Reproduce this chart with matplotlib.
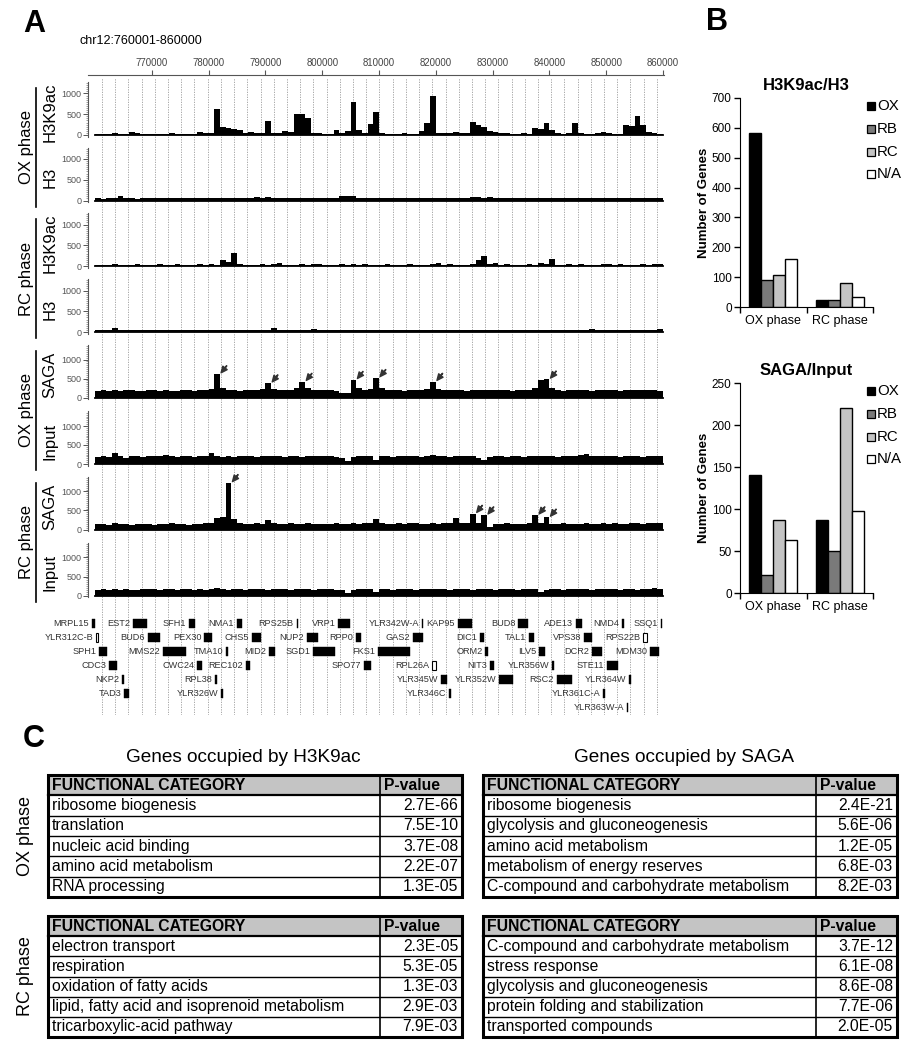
import numpy as np
import matplotlib.pyplot as plt
from matplotlib.patches import Rectangle

plt.rcParams['font.family'] = ['Liberation Sans', 'DejaVu Sans']

# ---------------- panel A data ----------------
region_start = 760000
region_end = 860000
bin_size = 1000
ruler_ticks = [770000, 780000, 790000, 800000, 810000, 820000, 830000, 840000, 850000, 860000]

ox_h3k9ac = [35, 30, 35, 40, 35, 30, 80, 40, 35, 30,
             35, 35, 30, 40, 35, 30, 35, 35, 70, 40,
             40, 620, 190, 170, 150, 130, 60, 80, 40, 45,
             330, 60, 40, 100, 80, 500, 510, 400, 60, 40,
             35, 35, 110, 40, 100, 800, 120, 60, 270, 550,
             50, 35, 35, 30, 40, 35, 35, 100, 300, 930,
             60, 40, 40, 70, 40, 45, 320, 250, 200, 100,
             80, 60, 40, 35, 35, 40, 35, 180, 150, 300,
             120, 40, 35, 40, 300, 40, 35, 35, 40, 70,
             40, 35, 35, 250, 220, 450, 250, 70, 40, 35]
ox_h3 = [50, 45, 55, 60, 100, 55, 50, 45, 55, 50,
         55, 50, 60, 55, 50, 55, 60, 50, 55, 60,
         50, 55, 60, 50, 55, 60, 65, 60, 90, 60,
         80, 55, 50, 60, 55, 50, 55, 60, 50, 55,
         60, 55, 60, 110, 120, 100, 55, 50, 60, 55,
         50, 55, 60, 55, 50, 55, 60, 55, 50, 55,
         60, 55, 50, 60, 55, 50, 75, 80, 70, 75,
         65, 60, 55, 60, 55, 50, 60, 55, 60, 55,
         50, 55, 60, 55, 60, 55, 50, 55, 60, 70,
         60, 55, 50, 60, 55, 50, 60, 55, 50, 65]
rc_h3k9ac = [35, 30, 35, 40, 35, 30, 35, 40, 35, 30,
             35, 40, 30, 35, 40, 35, 30, 35, 40, 35,
             40, 35, 140, 100, 310, 40, 35, 30, 35, 40,
             35, 40, 70, 35, 30, 35, 40, 35, 60, 40,
             35, 30, 35, 40, 35, 50, 35, 40, 35, 30,
             35, 40, 35, 30, 35, 40, 35, 30, 35, 40,
             80, 35, 40, 35, 30, 35, 40, 150, 240, 40,
             70, 35, 40, 35, 30, 35, 40, 35, 70, 40,
             180, 35, 30, 40, 35, 40, 35, 30, 35, 40,
             45, 35, 40, 35, 30, 35, 40, 35, 45, 40]
rc_h3 = [45, 50, 45, 90, 55, 50, 45, 50, 55, 45,
         50, 55, 45, 50, 55, 50, 45, 55, 50, 45,
         50, 45, 55, 50, 45, 50, 55, 50, 45, 60,
         55, 90, 50, 45, 55, 50, 45, 50, 70, 50,
         45, 50, 55, 50, 45, 55, 50, 45, 50, 55,
         50, 45, 55, 50, 60, 50, 45, 55, 50, 45,
         50, 55, 45, 50, 55, 50, 45, 60, 50, 55,
         50, 45, 55, 50, 45, 55, 60, 50, 45, 50,
         55, 50, 45, 60, 50, 55, 50, 70, 50, 45,
         50, 55, 45, 50, 55, 50, 45, 55, 50, 80]
ox_saga = [160, 190, 180, 200, 170, 190, 210, 180, 170, 190,
           200, 180, 190, 170, 180, 200, 190, 180, 210, 200,
           230, 620, 260, 200, 190, 180, 200, 190, 210, 230,
           380, 220, 190, 200, 210, 250, 420, 260, 200, 190,
           200, 190, 180, 110, 130, 470, 250, 210, 230, 520,
           260, 200, 190, 210, 180, 190, 200, 210, 230, 420,
           230, 200, 190, 210, 200, 180, 190, 210, 200, 190,
           200, 190, 210, 180, 200, 190, 210, 240, 450, 480,
           250, 200, 180, 190, 210, 200, 190, 180, 200, 210,
           190, 200, 180, 210, 190, 200, 210, 190, 200, 180]
ox_input = [180, 200, 190, 280, 220, 160, 200, 210, 190, 200,
            210, 200, 230, 210, 190, 200, 210, 190, 200, 210,
            280, 210, 190, 200, 180, 210, 200, 220, 190, 200,
            210, 200, 220, 190, 210, 200, 190, 220, 200, 210,
            220, 210, 190, 150, 80, 190, 200, 210, 200, 100,
            200, 210, 190, 200, 220, 200, 210, 190, 200, 230,
            210, 200, 190, 210, 200, 220, 200, 160, 110, 190,
            200, 210, 190, 200, 210, 190, 200, 220, 200, 210,
            200, 190, 210, 200, 210, 230, 260, 220, 200, 210,
            200, 210, 190, 220, 200, 210, 190, 200, 210, 200]
rc_saga = [140, 150, 130, 160, 140, 150, 130, 140, 150, 140,
           130, 150, 140, 160, 150, 140, 130, 150, 140, 160,
           170, 300, 320, 1230, 280, 170, 150, 140, 160, 150,
           250, 160, 150, 140, 170, 150, 140, 160, 150, 140,
           150, 140, 160, 140, 150, 160, 150, 170, 160, 280,
           160, 150, 140, 160, 150, 170, 160, 150, 140, 160,
           150, 170, 160, 300, 170, 160, 420, 180, 380, 70,
           150, 140, 160, 150, 140, 150, 160, 380, 170, 320,
           150, 140, 160, 150, 140, 150, 160, 150, 140, 160,
           150, 160, 140, 150, 160, 170, 150, 160, 170, 160]
rc_input = [150, 160, 140, 170, 150, 160, 140, 150, 160, 170,
            160, 150, 170, 160, 150, 160, 170, 150, 160, 150,
            170, 190, 160, 150, 170, 160, 150, 160, 170, 160,
            150, 160, 170, 160, 150, 160, 170, 160, 150, 160,
            170, 160, 150, 140, 70, 150, 160, 170, 160, 100,
            160, 170, 150, 160, 170, 160, 150, 160, 170, 180,
            160, 170, 150, 160, 170, 160, 150, 160, 170, 160,
            150, 160, 170, 160, 150, 160, 170, 160, 90, 150,
            160, 170, 150, 160, 180, 170, 160, 150, 170, 160,
            170, 160, 150, 170, 160, 150, 170, 160, 190, 170]

track_values = [ox_h3k9ac, ox_h3, rc_h3k9ac, rc_h3, ox_saga, ox_input, rc_saga, rc_input]
track_names = ['H3K9ac', 'H3', 'H3K9ac', 'H3', 'SAGA', 'Input', 'SAGA', 'Input']
group_names = ['OX phase', 'RC phase', 'OX phase', 'RC phase']
ox_saga_arrow_bins = [21, 30, 36, 45, 49, 59, 79]
rc_saga_arrow_bins = [23, 66, 68, 77, 79]

gene_names = ['MRPL15', 'EST2', 'SFH1', 'NMA1', 'RPS25B', 'VRP1', 'YLR342W-A', 'KAP95',
              'BUD8', 'ADE13', 'NMD4', 'SSQ1',
              'YLR312C-B', 'BUD6', 'PEX30', 'CHS5', 'NUP2', 'RPP0', 'GAS2', 'DIC1', 'TAL1',
              'VPS38', 'RPS22B',
              'SPH1', 'MMS22', 'TMA10', 'MID2', 'SGD1', 'FKS1', 'ORM2', 'ILV5', 'DCR2', 'MDM30',
              'CDC3', 'CWC24', 'REC102', 'SPO77', 'RPL26A', 'NIT3', 'YLR356W', 'STE11',
              'NKP2', 'RPL38', 'YLR345W', 'YLR352W', 'RSC2', 'YLR364W',
              'TAD3', 'YLR326W', 'YLR346C', 'YLR361C-A',
              'YLR363W-A']
gene_start = [759500, 766700, 776500, 785000, 795500, 802800, 817500, 823900,
              834500, 844700, 852700, 859600,
              760250, 769300, 779200, 787600, 797300, 806000, 816000, 827800, 836400,
              846100, 856500,
              760700, 772000, 783100, 790600, 798400, 809800, 828700, 838200, 847500, 857700,
              762500, 778000, 786600, 807400, 819300, 829500, 840500, 850100,
              764750, 781100, 820900, 831100, 841300, 854000,
              765100, 782200, 822300, 849400,
              853600]
gene_end = [760000, 769200, 777600, 785900, 795800, 804900, 817800, 826400,
            836200, 845700, 853200, 859900,
            760450, 771400, 780600, 789200, 799300, 806800, 817700, 828500, 837300,
            847500, 857200,
            762100, 776000, 783400, 791700, 802300, 815500, 829200, 839200, 849300, 859300,
            763900, 778800, 787300, 808600, 820000, 830200, 840800, 852100,
            765100, 781300, 822000, 833600, 844000, 854300,
            766000, 782500, 822600, 849600,
            853800]
gene_row = [0] * 12 + [1] * 11 + [2] * 10 + [3] * 8 + [4] * 6 + [5] * 4 + [6]
open_genes = ['RPS22B', 'RPL26A', 'YLR312C-B']

# ---------------- panel B data ----------------
phases = ['OX phase', 'RC phase']
classes = ['OX', 'RB', 'RC', 'N/A']
class_colors = ['black', '#7a7a7a', '#c4c4c4', 'white']
h3k9ac_ox_phase = [582, 90, 106, 162]
h3k9ac_rc_phase = [25, 23, 79, 32]
saga_ox_phase = [140, 22, 87, 63]
saga_rc_phase = [87, 50, 220, 98]

# ---------------- panel C data ----------------
h3k9ac_ox_cats = ['ribosome biogenesis', 'translation', 'nucleic acid binding',
                  'amino acid metabolism', 'RNA processing']
h3k9ac_ox_p = ['2.7E-66', '7.5E-10', '3.7E-08', '2.2E-07', '1.3E-05']
h3k9ac_rc_cats = ['electron transport', 'respiration', 'oxidation of fatty acids',
                  'lipid, fatty acid and isoprenoid metabolism', 'tricarboxylic-acid pathway']
h3k9ac_rc_p = ['2.3E-05', '5.3E-05', '1.3E-03', '2.9E-03', '7.9E-03']
saga_ox_cats = ['ribosome biogenesis', 'glycolysis and gluconeogenesis', 'amino acid metabolism',
                'metabolism of energy reserves', 'C-compound and carbohydrate metabolism']
saga_ox_p = ['2.4E-21', '5.6E-06', '1.2E-05', '6.8E-03', '8.2E-03']
saga_rc_cats = ['C-compound and carbohydrate metabolism', 'stress response',
                'glycolysis and gluconeogenesis', 'protein folding and stabilization',
                'transported compounds']
saga_rc_p = ['3.7E-12', '6.1E-08', '8.6E-08', '7.7E-06', '2.0E-05']

# ---------------- figure ----------------
W, H = 917, 1050
fig = plt.figure(figsize=(W / 100, H / 100), dpi=100)


def px_axes(x0, y0, x1, y1):
    a = fig.add_axes([x0 / W, 1 - y1 / H, (x1 - x0) / W, (y1 - y0) / H])
    a.set_facecolor('none')
    return a


ov = fig.add_axes([0, 0, 1, 1])
ov.set_xlim(0, W)
ov.set_ylim(H, 0)
ov.axis('off')

xlo, xhi = 758770, 860170

# panel letters and header
ov.text(34, 24, 'A', fontsize=22, fontweight='bold', ha='center', va='center')
ov.text(717, 22, 'B', fontsize=22, fontweight='bold', ha='center', va='center')
ov.text(34, 739, 'C', fontsize=22, fontweight='bold', ha='center', va='center')
ov.text(80, 41, 'chr12:760001-860000', fontsize=9, ha='left', va='center')

# dotted background grid for tracks and genes
bg = px_axes(88, 78, 664, 715)
bg.set_xlim(xlo, xhi)
bg.set_ylim(0, 1)
bg.axis('off')
grid_x = region_start + 1230 + np.arange(43) * 2326
bg.vlines(grid_x, 0, 1, color='#9a9a9a', lw=0.6, linestyles=(0, (1.5, 1.5)))

# ruler
ru = px_axes(88, 75, 664, 76)
ru.set_xlim(xlo, xhi)
for s in ['left', 'right', 'bottom']:
    ru.spines[s].set_visible(False)
ru.spines['top'].set_color('#555555')
ru.set_yticks([])
ru.set_xticks(ruler_ticks)
ru.set_xticklabels([str(t) for t in ruler_ticks])
ru.tick_params(axis='x', top=True, labeltop=True, bottom=False, labelbottom=False,
               direction='out', length=3.5, width=0.8, color='#555555',
               labelsize=6.9, labelcolor='#444444', pad=1.5)

track_base = [135, 200.5, 266, 332, 397.5, 464, 529.5, 595.5]
edges = region_start + np.arange(len(ox_h3k9ac) + 1) * bin_size
for i, vals in enumerate(track_values):
    b = track_base[i]
    scale = 0.0415 if i < 4 else 0.038
    ytop = 1270 if i < 4 else 1390
    ybot = -45
    ax = px_axes(88, b - ytop * scale, 664, b - ybot * scale)
    ax.set_xlim(xlo, xhi)
    ax.set_ylim(ybot, ytop)
    ys = np.append(vals, vals[-1])
    ax.fill_between(edges, 0, ys, step='post', color='black', lw=0)
    ax.plot([region_start, region_end], [0, 0], color='black', lw=1.3)
    for s in ['top', 'right', 'bottom']:
        ax.spines[s].set_visible(False)
    ax.spines['left'].set_color('#555555')
    ax.spines['left'].set_linewidth(0.8)
    ax.spines['left'].set_bounds(-40, ytop)
    ax.set_xticks([])
    ax.set_yticks([0, 500, 1000])
    ax.set_yticks(np.arange(0, ytop, 50), minor=True)
    ax.tick_params(axis='y', which='major', length=3.5, width=0.7, color='#555555',
                   labelsize=6.5, labelcolor='#555555', pad=1)
    ax.tick_params(axis='y', which='minor', length=1.8, width=0.5, color='#777777')
    arrows = ox_saga_arrow_bins if i == 4 else (rc_saga_arrow_bins if i == 6 else [])
    for k in arrows:
        xk = region_start + (k + 0.5) * bin_size + 700
        ax.annotate('', xy=(xk, vals[k] + 30), xytext=(4, 5), textcoords='offset points',
                    arrowprops=dict(facecolor='#333333', edgecolor='#333333', width=0.3,
                                    headwidth=4, headlength=4.5, shrink=0))
    ov.text(50, b - 23, track_names[i], fontsize=12, rotation=90, ha='center', va='center')

for g in range(4):
    a, c = track_base[2 * g], track_base[2 * g + 1]
    top, bot = a - 47, c + 6
    ov.plot([36, 36], [top, bot], color='black', lw=1.2)
    ov.text(26, (top + bot) / 2, group_names[g], fontsize=12, rotation=90,
            ha='center', va='center')

# genes
ga = px_axes(88, 612, 664, 716)
ga.set_xlim(xlo, xhi)
ga.set_ylim(716, 612)
ga.axis('off')
for name, st, en, r in zip(gene_names, gene_start, gene_end, gene_row):
    yc = 623 + 14 * r
    wdt = max(en - st, 300)
    if name in open_genes:
        ga.add_patch(Rectangle((st, yc - 4.5), wdt, 9, facecolor='white',
                               edgecolor='black', lw=0.8))
    else:
        ga.add_patch(Rectangle((st, yc - 4.5), wdt, 9, facecolor='black',
                               edgecolor='black', lw=0.3))
    ga.annotate(name, (st, yc), xytext=(-2, 0), textcoords='offset points',
                ha='right', va='center', fontsize=6.6, color='#333333')


# ---------------- panel B ----------------
def bar_panel(y0, y1, ymax, step, ox_vals, rc_vals, title, leg_y):
    bx = px_axes(740, y0, 873, y1)
    width = 0.18
    for c in range(4):
        bx.bar([0 + (c - 1.5) * width, 1 + (c - 1.5) * width], [ox_vals[c], rc_vals[c]],
               width=width, color=class_colors[c], edgecolor='black', lw=1)
    bx.set_xlim(-0.5, 1.5)
    bx.set_ylim(0, ymax)
    bx.spines['top'].set_visible(False)
    bx.spines['right'].set_visible(False)
    bx.set_yticks(np.arange(0, ymax + 1, step))
    bx.set_xticks([-0.5, 0.5, 1.5])
    bx.set_xticklabels([])
    bx.set_xticks([0, 1], minor=True)
    bx.set_xticklabels(phases, minor=True, fontsize=9)
    bx.tick_params(axis='x', which='minor', length=0, pad=6)
    bx.tick_params(axis='both', which='major', length=4, width=1, labelsize=8.5, pad=2)
    ov.text(806, y0 - 12, title, fontsize=12, fontweight='bold', ha='center', va='center')
    ov.text(704, (y0 + y1) / 2, 'Number of Genes', fontsize=9.5, fontweight='bold',
            rotation=90, ha='center', va='center')
    for c in range(4):
        yy = leg_y + c * 22.8
        ov.add_patch(Rectangle((867, yy - 4), 8, 8, facecolor=class_colors[c],
                               edgecolor='black', lw=0.9))
        ov.text(877, yy, classes[c], fontsize=10.8, ha='left', va='center')


bar_panel(98, 307, 700, 100, h3k9ac_ox_phase, h3k9ac_rc_phase, 'H3K9ac/H3', 106)
bar_panel(383, 593, 250, 50, saga_ox_phase, saga_rc_phase, 'SAGA/Input', 391)


# ---------------- panel C ----------------
def draw_table(x0, x1, xd, y0, y1, cats, pvals):
    n = len(cats) + 1
    rh = (y1 - y0) / n
    ov.add_patch(Rectangle((x0, y0), x1 - x0, rh, facecolor='#c4c4c4', edgecolor='none'))
    for i in range(1, n):
        ov.plot([x0, x1], [y0 + i * rh] * 2, color='black', lw=1.6 if i == 1 else 1.0)
    ov.plot([xd, xd], [y0, y1], color='black', lw=1.2)
    ov.add_patch(Rectangle((x0, y0), x1 - x0, y1 - y0, facecolor='none',
                           edgecolor='black', lw=2.2))
    ov.text(x0 + 4, y0 + rh / 2, 'FUNCTIONAL CATEGORY', fontsize=11.3, fontweight='bold',
            ha='left', va='center')
    ov.text(xd + 4, y0 + rh / 2, 'P-value', fontsize=11.3, fontweight='bold',
            ha='left', va='center')
    for i, (cname, p) in enumerate(zip(cats, pvals)):
        yc = y0 + (i + 1.5) * rh
        ov.text(x0 + 4, yc, cname, fontsize=11.3, ha='left', va='center')
        ov.text(x1 - 4, yc, p, fontsize=11.3, ha='right', va='center')


ov.text(243, 757, 'Genes occupied by H3K9ac', fontsize=13.7, ha='center', va='center')
ov.text(684, 757, 'Genes occupied by SAGA', fontsize=13.7, ha='center', va='center')
draw_table(48, 462, 380, 775, 897, h3k9ac_ox_cats, h3k9ac_ox_p)
draw_table(48, 462, 380, 916, 1037, h3k9ac_rc_cats, h3k9ac_rc_p)
draw_table(483, 897, 816, 775, 897, saga_ox_cats, saga_ox_p)
draw_table(483, 897, 816, 916, 1037, saga_rc_cats, saga_rc_p)
ov.text(25, 836, 'OX phase', fontsize=13, rotation=90, ha='center', va='center')
ov.text(25, 976, 'RC phase', fontsize=13, rotation=90, ha='center', va='center')

fig.savefig('out.png', dpi=100)
